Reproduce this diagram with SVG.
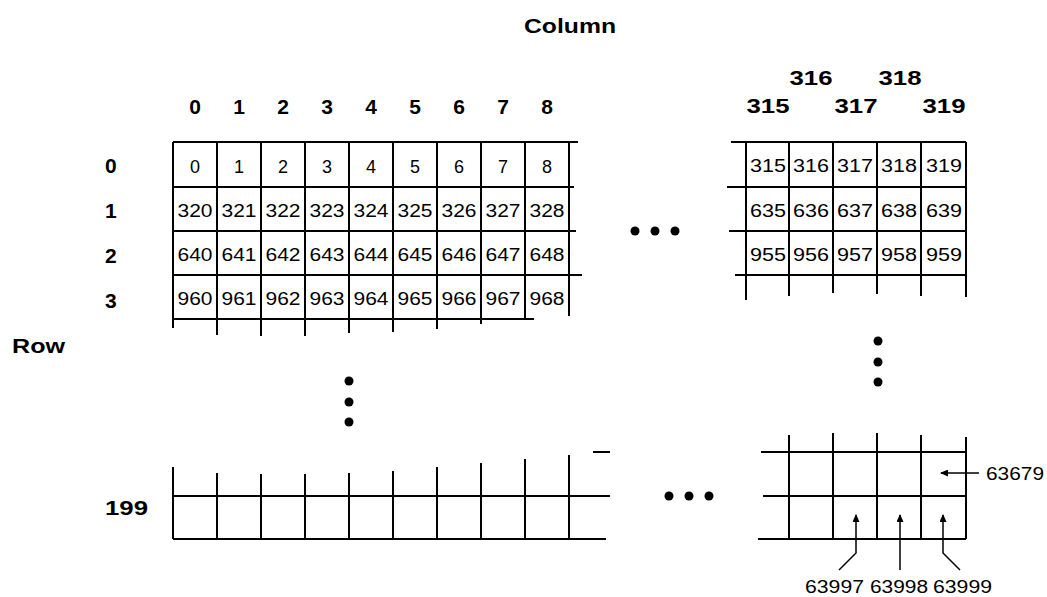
<svg xmlns="http://www.w3.org/2000/svg" width="1047" height="597" viewBox="0 0 1047 597">
<style>
.g line{stroke:#000;stroke-width:2;fill:none}
.a{stroke:#000;stroke-width:1.5;fill:none}
.h{font-family:"Liberation Sans",Arial,sans-serif;font-weight:bold;font-size:21px;fill:#000}
.hc{text-anchor:middle}
.c{font-family:"Liberation Sans",Arial,sans-serif;font-size:18px;fill:#000;text-anchor:middle}
.l{font-family:"Liberation Sans",Arial,sans-serif;font-size:18px;fill:#000}
.d{fill:#000}
</style>
<defs>
<marker id="ah" viewBox="0 0 8 7" refX="7" refY="3.5" markerWidth="8" markerHeight="7" markerUnits="userSpaceOnUse" orient="auto">
<path d="M0,0 L8,3.5 L0,7 Z" fill="#000"/>
</marker>
</defs>
<rect width="1047" height="597" fill="#fff"/>

<g id="titles">
<text class="h hc" x="570" y="33" textLength="92" lengthAdjust="spacingAndGlyphs">Column</text>
<text class="h" x="12" y="353" textLength="53" lengthAdjust="spacingAndGlyphs">Row</text>
</g>

<g id="col-headers" class="h hc">
<text class="h hc" x="195" y="114">0</text>
<text class="h hc" x="239" y="114">1</text>
<text class="h hc" x="283" y="114">2</text>
<text class="h hc" x="327" y="114">3</text>
<text class="h hc" x="371" y="114">4</text>
<text class="h hc" x="415" y="114">5</text>
<text class="h hc" x="459" y="114">6</text>
<text class="h hc" x="503" y="114">7</text>
<text class="h hc" x="547" y="114">8</text>
<text class="h hc" x="768" y="113" textLength="43" lengthAdjust="spacingAndGlyphs">315</text>
<text class="h hc" x="811" y="85" textLength="43" lengthAdjust="spacingAndGlyphs">316</text>
<text class="h hc" x="856" y="113" textLength="43" lengthAdjust="spacingAndGlyphs">317</text>
<text class="h hc" x="900" y="85" textLength="43" lengthAdjust="spacingAndGlyphs">318</text>
<text class="h hc" x="944" y="113" textLength="43" lengthAdjust="spacingAndGlyphs">319</text>
</g>

<g id="row-headers">
<text class="h" x="105" y="173">0</text>
<text class="h" x="105" y="218">1</text>
<text class="h" x="105" y="263">2</text>
<text class="h" x="105" y="308">3</text>
<text class="h" x="105" y="515" textLength="43" lengthAdjust="spacingAndGlyphs">199</text>
</g>

<g id="grid-top-left" class="g">
<line x1="173" y1="142" x2="578" y2="142"/>
<line x1="173" y1="187" x2="574" y2="187"/>
<line x1="173" y1="231" x2="576" y2="231"/>
<line x1="173" y1="275" x2="582" y2="275"/>
<line x1="173" y1="319" x2="534" y2="319"/>
<line x1="173" y1="142" x2="173" y2="328"/>
<line x1="217" y1="142" x2="217" y2="335"/>
<line x1="261" y1="142" x2="261" y2="336"/>
<line x1="305" y1="142" x2="305" y2="336"/>
<line x1="349" y1="142" x2="349" y2="333"/>
<line x1="393" y1="142" x2="393" y2="332"/>
<line x1="437" y1="142" x2="437" y2="329"/>
<line x1="481" y1="142" x2="481" y2="324"/>
<line x1="525" y1="142" x2="525" y2="319"/>
<line x1="569" y1="142" x2="569" y2="316"/>
</g>

<g id="cells-top-left" class="c">
<text class="c" x="195" y="173">0</text>
<text class="c" x="239" y="173">1</text>
<text class="c" x="283" y="173">2</text>
<text class="c" x="327" y="173">3</text>
<text class="c" x="371" y="173">4</text>
<text class="c" x="415" y="173">5</text>
<text class="c" x="459" y="173">6</text>
<text class="c" x="503" y="173">7</text>
<text class="c" x="547" y="173">8</text>
<text class="c" x="195" y="217" textLength="35" lengthAdjust="spacingAndGlyphs">320</text>
<text class="c" x="239" y="217" textLength="35" lengthAdjust="spacingAndGlyphs">321</text>
<text class="c" x="283" y="217" textLength="35" lengthAdjust="spacingAndGlyphs">322</text>
<text class="c" x="327" y="217" textLength="35" lengthAdjust="spacingAndGlyphs">323</text>
<text class="c" x="371" y="217" textLength="35" lengthAdjust="spacingAndGlyphs">324</text>
<text class="c" x="415" y="217" textLength="35" lengthAdjust="spacingAndGlyphs">325</text>
<text class="c" x="459" y="217" textLength="35" lengthAdjust="spacingAndGlyphs">326</text>
<text class="c" x="503" y="217" textLength="35" lengthAdjust="spacingAndGlyphs">327</text>
<text class="c" x="547" y="217" textLength="35" lengthAdjust="spacingAndGlyphs">328</text>
<text class="c" x="195" y="261" textLength="35" lengthAdjust="spacingAndGlyphs">640</text>
<text class="c" x="239" y="261" textLength="35" lengthAdjust="spacingAndGlyphs">641</text>
<text class="c" x="283" y="261" textLength="35" lengthAdjust="spacingAndGlyphs">642</text>
<text class="c" x="327" y="261" textLength="35" lengthAdjust="spacingAndGlyphs">643</text>
<text class="c" x="371" y="261" textLength="35" lengthAdjust="spacingAndGlyphs">644</text>
<text class="c" x="415" y="261" textLength="35" lengthAdjust="spacingAndGlyphs">645</text>
<text class="c" x="459" y="261" textLength="35" lengthAdjust="spacingAndGlyphs">646</text>
<text class="c" x="503" y="261" textLength="35" lengthAdjust="spacingAndGlyphs">647</text>
<text class="c" x="547" y="261" textLength="35" lengthAdjust="spacingAndGlyphs">648</text>
<text class="c" x="195" y="305" textLength="35" lengthAdjust="spacingAndGlyphs">960</text>
<text class="c" x="239" y="305" textLength="35" lengthAdjust="spacingAndGlyphs">961</text>
<text class="c" x="283" y="305" textLength="35" lengthAdjust="spacingAndGlyphs">962</text>
<text class="c" x="327" y="305" textLength="35" lengthAdjust="spacingAndGlyphs">963</text>
<text class="c" x="371" y="305" textLength="35" lengthAdjust="spacingAndGlyphs">964</text>
<text class="c" x="415" y="305" textLength="35" lengthAdjust="spacingAndGlyphs">965</text>
<text class="c" x="459" y="305" textLength="35" lengthAdjust="spacingAndGlyphs">966</text>
<text class="c" x="503" y="305" textLength="35" lengthAdjust="spacingAndGlyphs">967</text>
<text class="c" x="547" y="305" textLength="35" lengthAdjust="spacingAndGlyphs">968</text>
</g>

<g id="grid-top-right" class="g">
<line x1="731" y1="142" x2="966" y2="142"/>
<line x1="727" y1="187" x2="966" y2="187"/>
<line x1="729" y1="231" x2="966" y2="231"/>
<line x1="735" y1="275" x2="966" y2="275"/>
<line x1="746" y1="142" x2="746" y2="300"/>
<line x1="789" y1="142" x2="789" y2="296"/>
<line x1="833" y1="142" x2="833" y2="293"/>
<line x1="877" y1="142" x2="877" y2="294"/>
<line x1="921" y1="142" x2="921" y2="296"/>
<line x1="966" y1="142" x2="966" y2="297"/>
</g>

<g id="cells-top-right" class="c">
<text class="c" x="768" y="172" textLength="36" lengthAdjust="spacingAndGlyphs">315</text>
<text class="c" x="811" y="172" textLength="36" lengthAdjust="spacingAndGlyphs">316</text>
<text class="c" x="855" y="172" textLength="36" lengthAdjust="spacingAndGlyphs">317</text>
<text class="c" x="899" y="172" textLength="36" lengthAdjust="spacingAndGlyphs">318</text>
<text class="c" x="944" y="172" textLength="36" lengthAdjust="spacingAndGlyphs">319</text>
<text class="c" x="768" y="217" textLength="36" lengthAdjust="spacingAndGlyphs">635</text>
<text class="c" x="811" y="217" textLength="36" lengthAdjust="spacingAndGlyphs">636</text>
<text class="c" x="855" y="217" textLength="36" lengthAdjust="spacingAndGlyphs">637</text>
<text class="c" x="899" y="217" textLength="36" lengthAdjust="spacingAndGlyphs">638</text>
<text class="c" x="944" y="217" textLength="36" lengthAdjust="spacingAndGlyphs">639</text>
<text class="c" x="768" y="261" textLength="36" lengthAdjust="spacingAndGlyphs">955</text>
<text class="c" x="811" y="261" textLength="36" lengthAdjust="spacingAndGlyphs">956</text>
<text class="c" x="855" y="261" textLength="36" lengthAdjust="spacingAndGlyphs">957</text>
<text class="c" x="899" y="261" textLength="36" lengthAdjust="spacingAndGlyphs">958</text>
<text class="c" x="944" y="261" textLength="36" lengthAdjust="spacingAndGlyphs">959</text>
</g>

<g id="grid-bottom-left" class="g">
<line x1="593" y1="452" x2="610" y2="452"/>
<line x1="173" y1="496" x2="610" y2="496"/>
<line x1="173" y1="539" x2="606" y2="539"/>
<line x1="173" y1="467" x2="173" y2="539"/>
<line x1="217" y1="473" x2="217" y2="539"/>
<line x1="261" y1="474" x2="261" y2="539"/>
<line x1="305" y1="474" x2="305" y2="539"/>
<line x1="349" y1="473" x2="349" y2="539"/>
<line x1="393" y1="471" x2="393" y2="539"/>
<line x1="437" y1="467" x2="437" y2="539"/>
<line x1="481" y1="463" x2="481" y2="539"/>
<line x1="525" y1="459" x2="525" y2="539"/>
<line x1="569" y1="455" x2="569" y2="539"/>
</g>

<g id="grid-bottom-right" class="g">
<line x1="761" y1="452" x2="966" y2="452"/>
<line x1="763" y1="496" x2="966" y2="496"/>
<line x1="758" y1="539" x2="966" y2="539"/>
<line x1="789" y1="435" x2="789" y2="539"/>
<line x1="833" y1="433" x2="833" y2="539"/>
<line x1="877" y1="433" x2="877" y2="539"/>
<line x1="921" y1="435" x2="921" y2="539"/>
<line x1="966" y1="437" x2="966" y2="539"/>
</g>

<g id="ellipses" class="d">
<circle cx="635" cy="231" r="4.5"/>
<circle cx="655" cy="231" r="4.5"/>
<circle cx="675" cy="231" r="4.5"/>
<circle cx="669" cy="496" r="4.5"/>
<circle cx="689" cy="496" r="4.5"/>
<circle cx="709" cy="496" r="4.5"/>
<circle cx="349" cy="381" r="4.5"/>
<circle cx="349" cy="402" r="4.5"/>
<circle cx="349" cy="422" r="4.5"/>
<circle cx="878" cy="341" r="4.5"/>
<circle cx="878" cy="362" r="4.5"/>
<circle cx="878" cy="382" r="4.5"/>
</g>

<g id="connectors">
<polyline class="a" points="979,473 941,473" marker-end="url(#ah)"/>
<polyline class="a" points="839,570 856,553 856,515" marker-end="url(#ah)"/>
<polyline class="a" points="900,570 900,515" marker-end="url(#ah)"/>
<polyline class="a" points="960,570 943,553 943,515" marker-end="url(#ah)"/>
</g>

<g id="labels">
<text class="l" x="986" y="480" textLength="58" lengthAdjust="spacingAndGlyphs">63679</text>
<text class="l" x="805" y="593" textLength="59" lengthAdjust="spacingAndGlyphs">63997</text>
<text class="l" x="870" y="593" textLength="58" lengthAdjust="spacingAndGlyphs">63998</text>
<text class="l" x="933" y="593" textLength="59" lengthAdjust="spacingAndGlyphs">63999</text>
</g>
</svg>
